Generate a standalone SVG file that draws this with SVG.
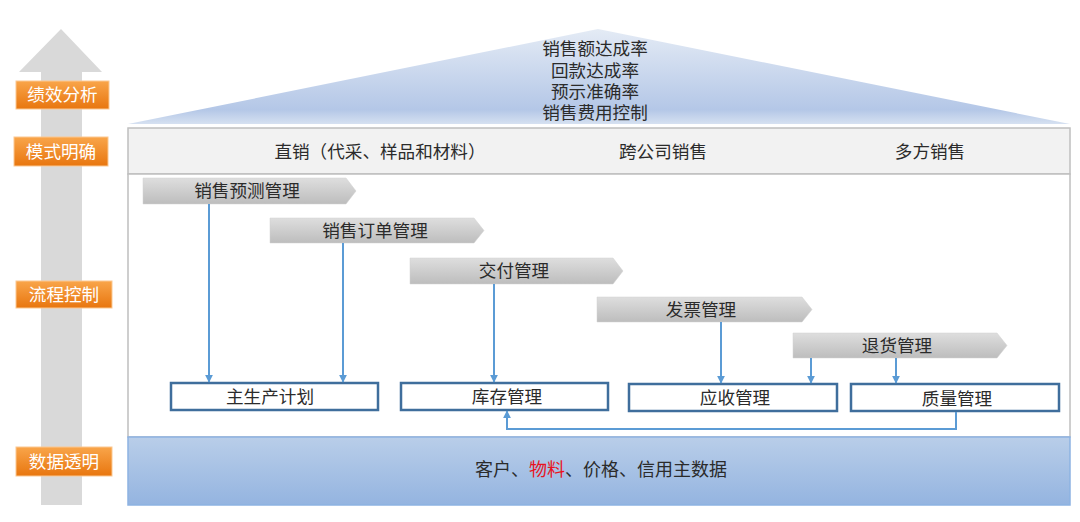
<svg xmlns="http://www.w3.org/2000/svg" width="1080" height="522" viewBox="0 0 1080 522">
<defs>
<linearGradient id="tri" x1="0" y1="0" x2="0" y2="1"><stop offset="0" stop-color="#e4ebf5"/><stop offset="0.85" stop-color="#b4c7e7"/><stop offset="1" stop-color="#d6e1f1"/></linearGradient>
<linearGradient id="org" x1="0" y1="0" x2="0" y2="1"><stop offset="0" stop-color="#f9a54a"/><stop offset="1" stop-color="#e8760f"/></linearGradient>
<linearGradient id="chev" x1="0" y1="0" x2="0" y2="1"><stop offset="0" stop-color="#dedede"/><stop offset="1" stop-color="#bdbdbd"/></linearGradient>
<linearGradient id="data" x1="0" y1="0" x2="0" y2="1"><stop offset="0" stop-color="#b9cee9"/><stop offset="1" stop-color="#94b4e0"/></linearGradient>
<marker id="ah" viewBox="0 0 10 10" refX="9" refY="5" markerWidth="4" markerHeight="4" orient="auto"><path d="M0,0 L10,5 L0,10 z" fill="#5b9bd5"/></marker>
</defs>
<style>
text{font-family:"Liberation Sans","Noto Sans CJK SC",sans-serif;font-size:17.6px;fill:#2b2b2b;text-anchor:middle;dominant-baseline:central}
.lbl rect{fill:url(#org);stroke:#fbc891;stroke-width:1}
.lbl text{fill:#fff}
.chev polygon{fill:url(#chev);stroke:#d0d0d0;stroke-width:0.5}
.box rect{fill:#fff;stroke:#3f6e9c;stroke-width:2.5}
.con path{fill:none;stroke:#5b9bd5;stroke-width:2;marker-end:url(#ah)}
</style>
<rect width="1080" height="522" fill="#fff"/>
<g id="bigarrow"><polygon points="61,29 102,72 82,72 82,505 41,505 41,72 19,72" fill="#d9d9d9"/></g>
<g id="lbl1" class="lbl"><rect x="16" y="81" width="93" height="28"/><text x="62.5" y="95">绩效分析</text></g>
<g id="lbl2" class="lbl"><rect x="14" y="137" width="94" height="29"/><text x="61" y="151.5">模式明确</text></g>
<g id="lbl3" class="lbl"><rect x="16" y="281" width="96" height="27"/><text x="64" y="294.5">流程控制</text></g>
<g id="lbl4" class="lbl"><rect x="16" y="447" width="96" height="29"/><text x="64" y="461.5">数据透明</text></g>
<g id="kpi"><polygon points="128,124 598,29 1070,124" fill="url(#tri)"/>
<text x="595" y="49">销售额达成率</text><text x="595" y="71">回款达成率</text><text x="595" y="92">预示准确率</text><text x="595" y="113">销售费用控制</text></g>
<g id="mode"><rect x="128" y="128" width="942" height="46" fill="#f2f2f2" stroke="#bfbfbf" stroke-width="1.5"/>
<text x="380" y="152">直销（代采、样品和材料）</text><text x="663" y="152">跨公司销售</text><text x="930" y="152">多方销售</text></g>
<g id="process"><rect x="128" y="174" width="942" height="263" fill="#fff" stroke="#bfbfbf" stroke-width="1.5"/></g>
<g id="data"><rect x="128" y="437" width="942" height="68" fill="url(#data)" stroke="#8db3e2" stroke-width="1.5"/>
<text x="601" y="470" style="font-size:18px">客户、<tspan fill="#e8141f">物料</tspan>、价格、信用主数据</text></g>
<g id="c1" class="chev"><polygon points="143,178 346,178 356,191 346,204 143,204"/><text x="247" y="191">销售预测管理</text></g>
<g id="c2" class="chev"><polygon points="270,218 474,218 484,230.5 474,243 270,243"/><text x="375" y="230.5">销售订单管理</text></g>
<g id="c3" class="chev"><polygon points="410,258 613,258 623,271 613,284 410,284"/><text x="514" y="271">交付管理</text></g>
<g id="c4" class="chev"><polygon points="597,297 802,297 812,309.5 802,322 597,322"/><text x="701" y="309.5">发票管理</text></g>
<g id="c5" class="chev"><polygon points="793,333 997,333 1007,345.5 997,358 793,358"/><text x="897" y="345.5">退货管理</text></g>
<g id="b1" class="box"><rect x="171" y="383" width="207" height="27"/><text x="270" y="396.5">主生产计划</text></g>
<g id="b2" class="box"><rect x="401" y="383" width="207" height="27"/><text x="507" y="396.5">库存管理</text></g>
<g id="b3" class="box"><rect x="629" y="384" width="208" height="27"/><text x="735" y="397.5">应收管理</text></g>
<g id="b4" class="box"><rect x="851" y="384" width="208" height="27"/><text x="957" y="398.5">质量管理</text></g>
<g id="connectors" class="con">
<path d="M209,204 V382"/>
<path d="M343,243 V382"/>
<path d="M494,284 V382"/>
<path d="M721,322 V383"/>
<path d="M811,358 V383"/>
<path d="M896,358 V383"/>
<path d="M956,412 V429 H507 V411"/>
</g>
</svg>
